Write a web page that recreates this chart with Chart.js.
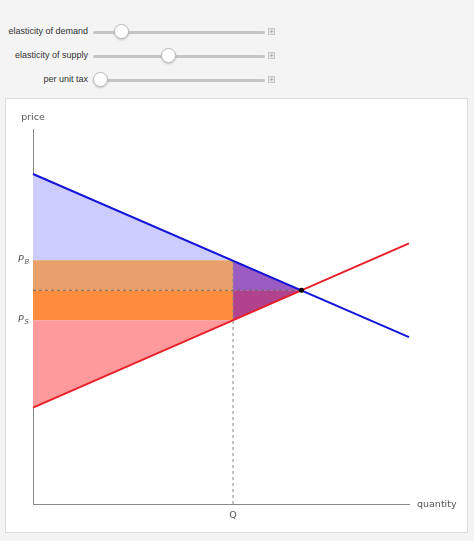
<!DOCTYPE html>
<html>
<head>
<meta charset="utf-8">
<script src="https://cdn.jsdelivr.net/npm/chart.js@4/dist/chart.umd.min.js"></script>
<style>
  html, body { margin: 0; padding: 0; }
  body {
    width: 474px; height: 541px; background: #f4f4f4; position: relative;
    font-family: "Liberation Sans", Arial, sans-serif; overflow: hidden;
  }
  .row { position: absolute; left: 0; height: 16px; width: 474px; }
  .lbl { position: absolute; left: 0; width: 88px; text-align: right; top: 2px; font-size: 9px; color: #333; white-space: nowrap; }
  .track { position: absolute; left: 93px; width: 172px; top: 7px; height: 3px; background: #c6c6c6; border-radius: 2px; }
  .thumb { position: absolute; top: 0; width: 15px; height: 15px; margin-left: -8px; border-radius: 50%;
    background: #fff; border: 1px solid #bbb; box-shadow: 0 1px 2px rgba(0,0,0,0.2); box-sizing: border-box; }
  .plus { position: absolute; left: 268px; top: 4px; width: 7px; height: 7px; border: 1px solid #c8c8c8;
    background: #e6e6e6; box-sizing: border-box; font-size: 7px; line-height: 5px; text-align: center; color: #999; }
  #panel { position: absolute; left: 5px; top: 98px; width: 463px; height: 435px; background: #fff;
    border: 1px solid #dcdcdc; box-sizing: border-box; }
  #wrap { position: absolute; left: 0; top: 0; width: 461px; height: 433px; }
</style>
</head>
<body>
<div class="row" style="top:24px"><span class="lbl">elasticity of demand</span><div class="track"></div><div class="thumb" style="left:122px"></div><div class="plus">+</div></div>
<div class="row" style="top:48px"><span class="lbl">elasticity of supply</span><div class="track"></div><div class="thumb" style="left:169px"></div><div class="plus">+</div></div>
<div class="row" style="top:72px"><span class="lbl">per unit tax</span><div class="track"></div><div class="thumb" style="left:101px"></div><div class="plus">+</div></div>

<div id="panel"><div id="wrap"><canvas id="chart"></canvas></div></div>

<script>
// market values (quantity 0-10, price 0-10)
const demandLine = [{ x: 0, y: 8.8 }, { x: 10, y: 4.45 }];
const supplyLine = [{ x: 0, y: 2.57 }, { x: 10, y: 6.95 }];
const equilibrium = { x: 7.14, y: 5.7 };
const taxQ = 5.32;
const priceBuyers = 6.5;
const priceSellers = 4.9;

// filled areas
const consumerArea = [{ x: 0, y: 8.8 }, { x: taxQ, y: priceBuyers }, { x: 0, y: priceBuyers }];
const buyerTaxArea = [{ x: 0, y: priceBuyers }, { x: taxQ, y: priceBuyers }, { x: taxQ, y: equilibrium.y }, { x: 0, y: equilibrium.y }];
const sellerTaxArea = [{ x: 0, y: equilibrium.y }, { x: taxQ, y: equilibrium.y }, { x: taxQ, y: priceSellers }, { x: 0, y: priceSellers }];
const producerArea = [{ x: 0, y: priceSellers }, { x: taxQ, y: priceSellers }, { x: 0, y: 2.57 }];
const lossUpper = [{ x: taxQ, y: priceBuyers }, { x: equilibrium.x, y: equilibrium.y }, { x: taxQ, y: equilibrium.y }];
const lossLower = [{ x: taxQ, y: equilibrium.y }, { x: equilibrium.x, y: equilibrium.y }, { x: taxQ, y: priceSellers }];

const dashHoriz = [{ x: 0, y: equilibrium.y }, { x: equilibrium.x, y: equilibrium.y }];
const dashVert = [{ x: taxQ, y: 0 }, { x: taxQ, y: priceBuyers }];

function area(points, color) {
  return { data: points.concat([points[0]]), showLine: true, fill: 'shape', backgroundColor: color,
    borderWidth: 0, pointRadius: 0, tension: 0 };
}
function line(points, color, width, dash) {
  return { data: points, showLine: true, fill: false, borderColor: color, borderWidth: width,
    borderDash: dash || [], pointRadius: 0, tension: 0 };
}

// axis labels drawn at scale positions
const labelPlugin = {
  id: 'labels',
  afterDraw(chart) {
    const { ctx, scales: { x, y } } = chart;
    ctx.save();
    ctx.fillStyle = '#555';
    ctx.font = '9.5px "DejaVu Sans", sans-serif';
    ctx.textAlign = 'center';
    ctx.textBaseline = 'middle';
    ctx.fillText('price', x.getPixelForValue(0), y.top - 11);
    ctx.textAlign = 'left';
    ctx.fillText('quantity', x.right + 8, y.bottom + 1);
    ctx.textAlign = 'center';
    ctx.fillText('Q', x.getPixelForValue(taxQ), y.bottom + 12);
    [['B', priceBuyers], ['S', priceSellers]].forEach(([sub, v]) => {
      const py = y.getPixelForValue(v);
      const px = x.left - 15;
      ctx.textAlign = 'left';
      ctx.font = 'italic 9.5px "DejaVu Sans", sans-serif';
      ctx.fillText('P', px, py - 1);
      ctx.font = 'italic 7px "DejaVu Sans", sans-serif';
      ctx.fillText(sub, px + 6.5, py + 2);
    });
    ctx.restore();
  }
};

// dataset 0 is painted on top, so marks come first and areas last
new Chart(document.getElementById('chart'), {
  type: 'scatter',
  data: {
    datasets: [
      { data: [equilibrium], pointRadius: 2.5, backgroundColor: '#000', borderWidth: 0 },
      line(demandLine, '#1414d8', 2),
      line(supplyLine, '#e8202a', 2),
      line(dashHoriz, '#666', 1, [3, 3]),
      line(dashVert, '#888', 1, [3, 3]),
      area(lossLower, '#b0428e'),
      area(lossUpper, '#9a5cc2'),
      area(producerArea, '#ff9a9c'),
      area(sellerTaxArea, '#ff8c3c'),
      area(buyerTaxArea, '#e8a06c'),
      area(consumerArea, '#ccccff')
    ]
  },
  options: {
    responsive: true,
    maintainAspectRatio: false,
    animation: false,
    clip: false,
    layout: { padding: { left: 27, right: 58, top: 30, bottom: 28 } },
    plugins: { legend: { display: false }, tooltip: { enabled: false } },
    scales: {
      x: {
        type: 'linear', min: 0, max: 10,
        grid: { display: false, drawTicks: false },
        border: { display: true, color: '#888', width: 1 },
        ticks: { display: false }
      },
      y: {
        type: 'linear', min: 0, max: 10,
        grid: { display: false, drawTicks: false },
        border: { display: true, color: '#888', width: 1 },
        ticks: { display: false }
      }
    }
  },
  plugins: [labelPlugin]
});
</script>
</body>
</html>
